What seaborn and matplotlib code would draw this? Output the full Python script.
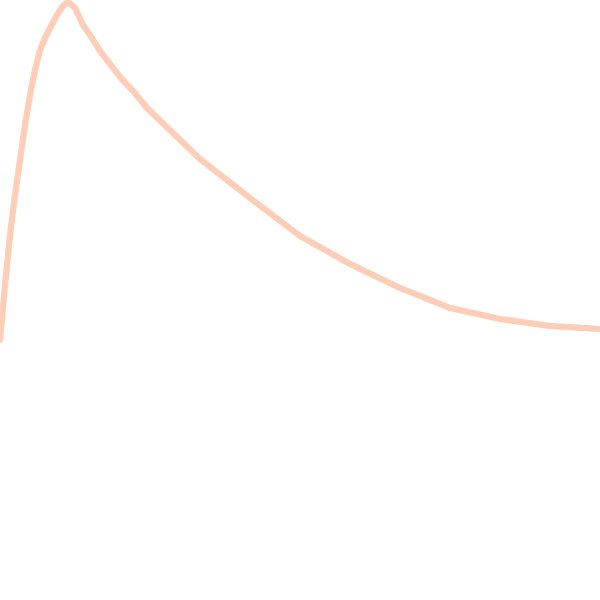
import numpy as np
import pandas as pd
import matplotlib
matplotlib.use('Agg')
import matplotlib.pyplot as plt
import seaborn as sns

# values
x_vals = [0, 5, 10, 15, 20, 25, 30, 35, 40, 45, 50, 57, 63, 68,
          75, 83, 90, 100, 110, 120, 133, 147, 175, 200, 250, 300,
          350, 400, 450, 500, 550, 600]
y_vals = [260, 315, 365, 405, 440, 475, 505, 530, 550, 562, 572, 585, 594, 598,
          592, 575, 565, 549, 536, 523, 509, 492, 465, 441, 402, 364,
          336, 312, 292, 281, 274, 271]

df = pd.DataFrame({'x': x_vals, 'y': y_vals})

sns.set_style('white')
fig = plt.figure(figsize=(6, 6), dpi=100)
ax = fig.add_axes([0, 0, 1, 1])
sns.lineplot(data=df, x='x', y='y', ax=ax, color='#FFC6AC', linewidth=4.5, alpha=0.85)
ax.set_xlim(0, 600)
ax.set_ylim(0, 600)
ax.set_axis_off()
fig.savefig('out.png', dpi=100)
